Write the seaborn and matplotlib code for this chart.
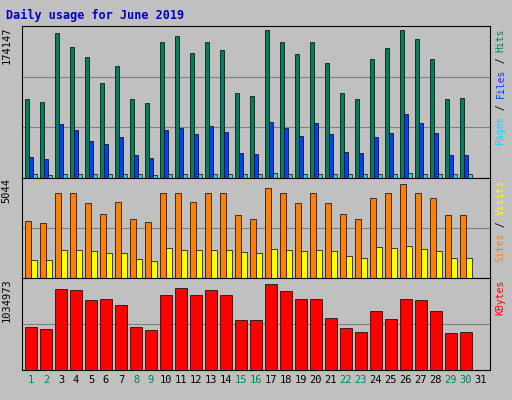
import matplotlib
matplotlib.use("Agg")
import matplotlib.pyplot as plt
import seaborn as sns
import pandas as pd
import numpy as np

days = [str(d) for d in range(1, 32)]
weekend = {1, 2, 8, 9, 15, 16, 22, 23, 29, 30}
hits = [92300, 88800, 168900, 153200, 141100, 111500, 130600, 92300, 87100, 158500,
        165400, 146300, 158500, 149800, 99300, 95800, 172400, 158500, 144500, 158500,
        134100, 99300, 92300, 139300, 151500, 172400, 162000, 139300, 92300, 94000, 0]
files = [24700, 22400, 63500, 56500, 43500, 40000, 48200, 27100, 23500, 56500,
         58800, 51800, 61200, 54100, 29400, 28200, 65900, 58800, 49400, 64700,
         51800, 30600, 29400, 48200, 53000, 75300, 64700, 53000, 27100, 27100, 0]
pages = [4200, 4000, 5200, 5000, 4800, 4500, 4900, 4100, 3900, 5100,
         5200, 5000, 5100, 5000, 4300, 4200, 5300, 5100, 4900, 5100,
         4900, 4300, 4200, 4900, 5000, 5400, 5200, 5000, 4100, 4100, 0]
visits = [2942, 2837, 4361, 4361, 3836, 3310, 3888, 3047, 2890, 4361,
          4361, 3888, 4361, 4361, 3258, 3047, 4624, 4361, 3836, 4361,
          3836, 3310, 3047, 4098, 4361, 4834, 4361, 4098, 3258, 3258, 0]
sites = [946, 946, 1419, 1419, 1366, 1261, 1261, 998, 893, 1524,
         1419, 1419, 1419, 1419, 1314, 1261, 1471, 1419, 1366, 1419,
         1366, 1156, 1051, 1576, 1524, 1629, 1471, 1366, 1051, 1051, 0]
kbytes = [494000, 470400, 929100, 917400, 799800, 811500, 740900, 494000, 458700, 858600,
          940900, 858600, 917400, 858600, 576300, 576300, 987900, 905600, 811500, 811500,
          599800, 482200, 435200, 682100, 588100, 811500, 799800, 682100, 423400, 435200, 0]
max_hits, max_visits, max_kb = 174147, 5044, 1034973

BG = "#C0C0C0"
fig = plt.figure(figsize=(5.12, 4.0), dpi=100, facecolor=BG)
L, R = 22/512, 490/512

def panel(y0, y1):
    ax = fig.add_axes([L, 1 - y1/400, R - L, (y1 - y0)/400])
    ax.set_facecolor(BG)
    for s in ax.spines.values():
        s.set_color("black"); s.set_linewidth(0.8)
    return ax

def draw(ax, series, names, colors, ymax, nlines):
    df = pd.DataFrame({"day": days * len(series),
                       "val": sum([list(s) for s in series], []),
                       "kind": sum([[n] * len(days) for n in names], [])})
    sns.barplot(data=df, x="day", y="val", hue="kind", order=days, hue_order=names,
                palette=colors, dodge=True, width=0.75, edgecolor="black",
                linewidth=0.5, legend=False, ax=ax, zorder=3, saturation=1)
    ax.set_ylim(0, ymax * 1.02)
    ax.set_xlim(-0.6, 30.6)
    for k in range(1, nlines + 1):
        ax.axhline(ymax * 1.02 * k / (nlines + 1), color="#808080", lw=0.8, zorder=1)
    ax.set_xlabel(""); ax.set_ylabel("")
    ax.set_yticks([]); ax.tick_params(axis="x", length=0)
    ax.set_xticklabels([])

ax1 = panel(26, 178)
draw(ax1, [hits, files, pages], ["Hits", "Files", "Pages"],
     ["#00805C", "#0040FF", "#00E0FF"], max_hits, 2)
ax2 = panel(178, 278)
draw(ax2, [visits, sites], ["Visits", "Sites"], ["#FF8000", "#FFFF00"], max_visits, 1)
ax3 = panel(278, 370)
draw(ax3, [kbytes], ["KBytes"], ["#FF0000"], max_kb, 1)

mono = "DejaVu Sans Mono"
fig.text(6/512, 1 - 15/400, "Daily usage for June 2019", color="#0000C0",
         family=mono, fontweight="bold", fontsize=8.5, va="center")
for ax, lab in [(ax1, "174147"), (ax2, "5044"), (ax3, "1034973")]:
    ax.text(-0.022, 1.0, lab, transform=ax.transAxes, rotation=90, ha="right",
            va="top", family=mono, fontsize=7.5)

ax3.set_xticks(range(31))
ax3.set_xticklabels(days, family=mono, fontsize=7.5)
for t, d in zip(ax3.get_xticklabels(), range(1, 32)):
    t.set_color("#00805C" if d in weekend else "black")

FS = 7.0
def rlabel(ax, parts):
    hpx = ax.get_position().height * 400
    ch = 0.602 * FS * 100 / 72  # px per char
    y = 1.0 - 2 / hpx
    for txt, col in parts:
        ax.text(1.012, y, txt, transform=ax.transAxes, rotation=90, ha="left",
                va="top", family=mono, fontsize=FS, color=col)
        y -= len(txt) * ch / hpx
rlabel(ax1, [("Hits", "#00805C"), (" / ", "black"), ("Files", "#0040FF"),
             (" / ", "black"), ("Pages", "#00E0FF")])
rlabel(ax2, [("Visits", "#FFFF00"), (" / ", "black"), ("Sites", "#FF8000")])
rlabel(ax3, [("KBytes", "#FF0000")])

fig.savefig("out.png", dpi=100, facecolor=BG)
